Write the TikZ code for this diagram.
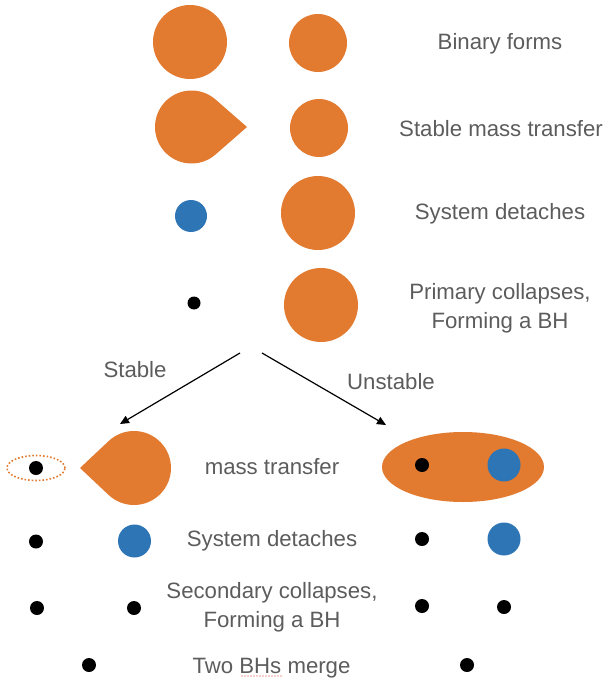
\documentclass[tikz,border=0pt]{standalone}
\usepackage{fontspec}
\setmainfont{Liberation Sans}
\usetikzlibrary{arrows.meta,calc,shapes.geometric}
\definecolor{starorange}{HTML}{E27A30}
\definecolor{starblue}{HTML}{2E75B6}
\definecolor{labelgray}{HTML}{5C5C5C}
\definecolor{spellred}{HTML}{E0302A}
\tikzset{
  star/.style={circle, fill=starorange, inner sep=0pt, minimum size=#1},
  bluestar/.style={circle, fill=starblue, inner sep=0pt, minimum size=#1},
  hole/.style={circle, fill=black, inner sep=0pt, minimum size=14pt},
  label text/.style={text=labelgray, font=\fontsize{22.2}{29}\selectfont, align=center, inner sep=0pt},
  branch/.style={line width=1.2pt, -{Triangle[length=9pt,width=8pt]}},
  lobe/.style={fill=starorange}
}
\begin{document}
\begin{tikzpicture}[x=1pt,y=-1pt]
\useasboundingbox (0,0) rectangle (604,682);

% Stage 1: binary forms
\node[star=74pt] (p1) at (190,42) {};
\node[star=58pt] (s1) at (318,43) {};
\node[label text] (t1) at (500,44) {Binary forms};

% Stage 2: primary fills its lobe
\fill[lobe] (247,127) -- ($(191.5,127)+(49:36.5)$)
  arc[start angle=49, end angle=311, radius=36.5] -- cycle;
\coordinate (p2) at (191.5,127);
\node[star=58pt] (s2) at (319,128) {};
\node[label text] (t2) at (501,129) {Stable mass transfer};

% Stage 3: stripped primary
\node[bluestar=32pt] (p3) at (191,216) {};
\node[star=74pt] (s3) at (318,213) {};
\node[label text] (t3) at (500,214) {System detaches};

% Stage 4: primary collapses
\node[hole, minimum size=13pt] (p4) at (194,303) {};
\node[star=74pt] (s4) at (321,305) {};
\node[label text] (t4) at (500,308) {Primary collapses,\\Forming a BH};

% Branching
\coordinate (fork l) at (240,353);
\coordinate (fork r) at (262,353);
\coordinate (end l) at (120,424);
\coordinate (end r) at (386,425);
\draw[branch] (fork l) -- (end l);
\draw[branch] (fork r) -- (end r);
\node[label text] (stable) at (135,370) {Stable};
\node[label text] (unstable) at (391,382) {Unstable};

% Stable branch, stage 5: secondary fills its lobe onto the BH
\node[ellipse, draw=starorange, dotted, line width=1.6pt, minimum width=58pt,
      minimum height=25pt, inner sep=0pt] (disk) at (36,468) {};
\node[hole] (bh5) at (36,468) {};
\fill[lobe] (80,468) -- ($(134,468)+(226.8:37)$)
  arc[start angle=226.8, end angle=493.2, radius=37] -- cycle;
\coordinate (s5) at (134,468);
\node[label text] (t5) at (272,467) {mass transfer};

% Unstable branch, stage 5: common envelope
\node[ellipse, fill=starorange, minimum width=162pt, minimum height=70pt,
      inner sep=0pt] (ce) at (463,467) {};
\node[hole] (bh5r) at (422,465) {};
\node[bluestar=33pt] (s5r) at (504,465) {};

% Stage 6: system detaches
\node[hole] (bh6) at (36,541.5) {};
\node[bluestar=33pt] (s6) at (134.5,541) {};
\node[label text] (t6) at (272,541) {System detaches};
\node[hole] (bh6r) at (422,539) {};
\node[bluestar=33pt] (s6r) at (504,539) {};

% Stage 7: secondary collapses
\node[hole] (bh7a) at (37,608) {};
\node[hole] (bh7b) at (134,608) {};
\node[label text] (t7) at (272,607) {Secondary collapses,\\Forming a BH};
\node[hole] (bh7c) at (422,606) {};
\node[hole] (bh7d) at (504,607) {};

% Stage 8: merger
\node[hole] (bh8) at (89,665) {};
\node[label text, anchor=base] (t8) at (271.5,673) {Two BHs merge};
\node[hole] (bh8r) at (467,665) {};
\draw[spellred, line width=1.4pt, line cap=round, dash pattern=on 0pt off 3pt]
  ([xshift=-29.5pt,yshift=-3pt]t8.base) -- ([xshift=10.5pt,yshift=-3pt]t8.base);
\end{tikzpicture}
\end{document}
